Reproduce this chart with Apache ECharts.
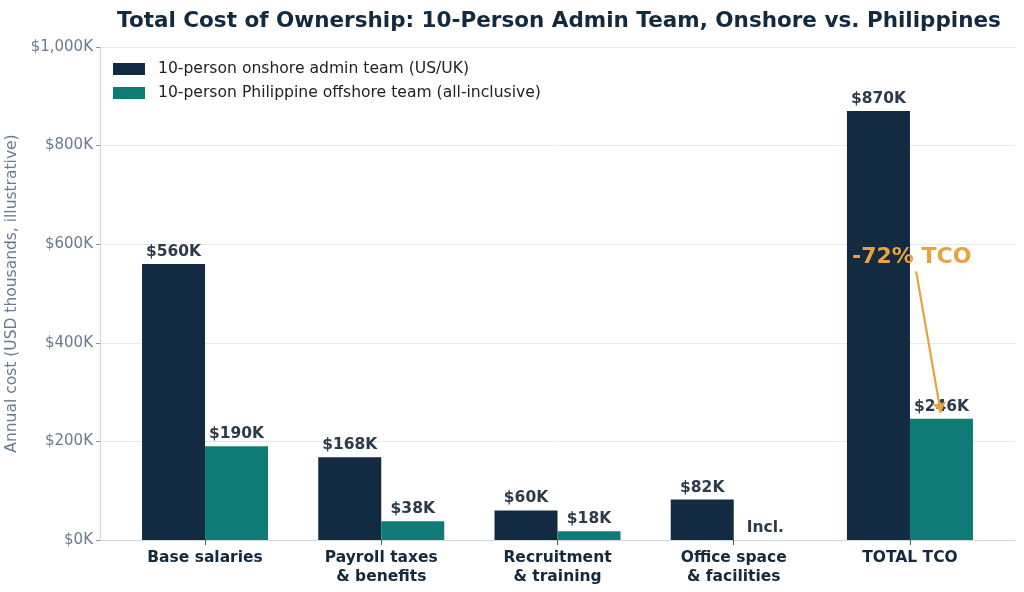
<!DOCTYPE html>
<html>
<head>
<meta charset="UTF-8">
<title>Total Cost of Ownership</title>
<script src="https://cdn.jsdelivr.net/npm/echarts@6/dist/echarts.min.js"></script>
<style>
  html, body { margin: 0; padding: 0; background: #fff; }
  #main { width: 1024px; height: 592px; }
</style>
</head>
<body>
<div id="main"></div>
<script>
// data
const categories = ['Base salaries', 'Payroll taxes\n& benefits', 'Recruitment\n& training', 'Office space\n& facilities', 'TOTAL TCO'];
const onshore = [560, 168, 60, 82, 870];
const offshore = [190, 38, 18, 0, 246];
const savingText = '-72% TCO';
// arrow from the note down to the offshore total bar (data units)
const arrowFrom = [4.035, 545];
const arrowTo = [4.175, 258];
const notePos = [4.01, 574];

const navy = '#122a42';
const teal = '#0f7b76';
const orange = '#e8a33d';
const font = 'DejaVu Sans';

function money(v) {
    return '$' + v.toLocaleString('en-US') + 'K';
}

const chart = echarts.init(document.getElementById('main'));

const barLabel = {
    show: true,
    position: 'top',
    distance: 4,
    fontFamily: font,
    fontSize: 15.5,
    fontWeight: 'bold',
    color: '#2d3a4a'
};

const option = {
    animation: false,
    textStyle: { fontFamily: font },
    title: {
        text: 'Total Cost of Ownership: 10-Person Admin Team, Onshore vs. Philippines',
        left: 554,
        top: 5,
        textAlign: 'center',
        textStyle: { fontFamily: font, fontSize: 21.5, fontWeight: 'bold', color: '#13293d' }
    },
    legend: {
        orient: 'vertical',
        left: 108,
        top: 56,
        icon: 'rect',
        itemWidth: 32,
        itemHeight: 12,
        itemGap: 8,
        textStyle: { fontFamily: font, fontSize: 15.6, color: '#222', padding: [0, 0, 0, 8] },
        data: ['10-person onshore admin team (US/UK)', '10-person Philippine offshore team (all-inclusive)']
    },
    grid: { left: 100, right: 9, top: 47, bottom: 52, outerBoundsMode: 'none' },
    xAxis: {
        type: 'value',
        min: -0.596,
        max: 4.596,
        splitLine: { show: false },
        axisLine: { show: true, onZero: false, lineStyle: { color: '#cfd6df', width: 1.2 } },
        axisTick: { show: true, customValues: [0, 1, 2, 3, 4], length: 5, lineStyle: { color: '#555' } },
        axisLabel: {
            customValues: [0, 1, 2, 3, 4],
            formatter: v => categories[Math.round(v)],
            fontFamily: font,
            fontSize: 15.5,
            fontWeight: 'bold',
            color: '#13293d',
            lineHeight: 19,
            margin: 8
        }
    },
    yAxis: {
        type: 'value',
        min: 0,
        max: 1000,
        interval: 200,
        name: 'Annual cost (USD thousands, illustrative)',
        nameLocation: 'middle',
        nameGap: 75,
        nameTextStyle: { fontFamily: font, fontSize: 15.5, color: '#6b7a90' },
        axisLine: { show: true, onZero: false, lineStyle: { color: '#cfd6df', width: 1.2 } },
        axisTick: { show: true, length: 4, lineStyle: { color: '#8a96a6' } },
        axisLabel: {
            fontFamily: font,
            fontSize: 15,
            color: '#6b7a90',
            margin: 7,
            formatter: v => money(v)
        },
        splitLine: { lineStyle: { color: '#e6eaf0', width: 1 } }
    },
    series: [
        {
            name: '10-person onshore admin team (US/UK)',
            type: 'bar',
            barWidth: 63,
            barGap: '0%',
            itemStyle: { color: navy },
            label: Object.assign({}, barLabel, { formatter: p => money(p.value[1]) }),
            data: onshore.map((v, i) => [i, v])
        },
        {
            name: '10-person Philippine offshore team (all-inclusive)',
            type: 'bar',
            barWidth: 63,
            barGap: '0%',
            itemStyle: { color: teal },
            label: Object.assign({}, barLabel, {
                formatter: p => p.value[1] === 0 ? 'Incl.' : money(p.value[1])
            }),
            data: offshore.map((v, i) => [i, v])
        },
        {
            name: 'note',
            type: 'line',
            data: [],
            markLine: {
                silent: true,
                symbol: ['none', 'arrow'],
                symbolSize: 11,
                label: { show: false },
                lineStyle: { color: orange, width: 2.2, type: 'solid' },
                data: [[{ coord: arrowFrom }, { coord: arrowTo }]]
            },
            markPoint: {
                silent: true,
                symbol: 'circle',
                symbolSize: 0,
                label: {
                    show: true,
                    formatter: savingText,
                    fontFamily: font,
                    fontSize: 22,
                    fontWeight: 'bold',
                    color: orange
                },
                data: [{ coord: notePos }]
            }
        }
    ]
};

chart.setOption(option);
</script>
</body>
</html>
